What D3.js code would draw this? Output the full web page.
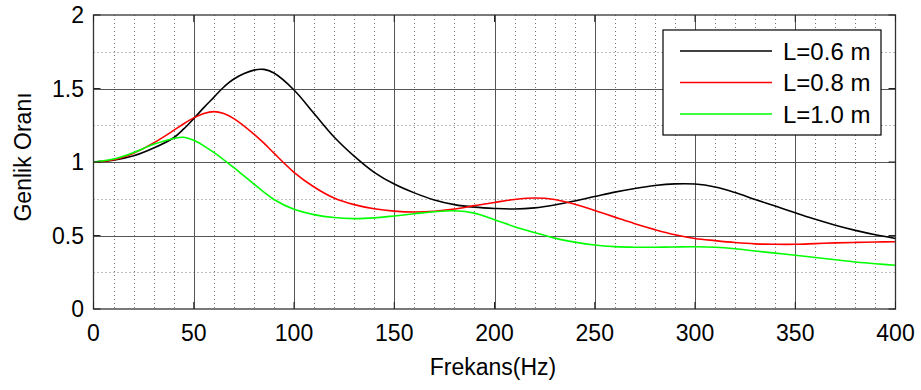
<!DOCTYPE html>
<html><head><meta charset="utf-8">
<script src="https://cdn.jsdelivr.net/npm/d3@7"></script>
<style>body{margin:0;background:#fff}svg{display:block}text{font-family:"Liberation Sans",Arial,sans-serif;fill:#000}</style>
</head><body><svg id="c" width="921" height="390"></svg>
<script>
const freqs = [0,10,20,30,40,45,50,55,60,65,70,80,85,90,100,110,120,130,140,150,160,170,180,190,200,210,220,230,240,250,260,270,280,290,300,310,320,330,340,350,360,370,380,390,400];
const seriesL06 = [1.00,1.012,1.042,1.095,1.165,1.225,1.295,1.37,1.44,1.51,1.565,1.625,1.63,1.605,1.49,1.33,1.17,1.04,0.93,0.85,0.79,0.742,0.71,0.693,0.684,0.68,0.688,0.708,0.735,0.765,0.795,0.82,0.84,0.851,0.85,0.83,0.792,0.745,0.70,0.655,0.61,0.57,0.535,0.505,0.48];
const seriesL08 = [1.00,1.015,1.06,1.13,1.215,1.26,1.30,1.33,1.343,1.33,1.295,1.19,1.128,1.06,0.93,0.83,0.755,0.71,0.682,0.666,0.66,0.665,0.68,0.703,0.725,0.745,0.755,0.745,0.713,0.67,0.625,0.58,0.54,0.505,0.48,0.465,0.452,0.443,0.44,0.44,0.445,0.45,0.453,0.456,0.457];
const seriesL10 = [1.00,1.02,1.065,1.12,1.16,1.168,1.148,1.11,1.065,1.015,0.962,0.85,0.795,0.745,0.678,0.642,0.622,0.615,0.62,0.633,0.648,0.662,0.668,0.652,0.607,0.56,0.52,0.482,0.455,0.435,0.424,0.42,0.42,0.422,0.423,0.42,0.41,0.395,0.38,0.366,0.35,0.335,0.32,0.308,0.298];
const seriesNames = ["L=0.6 m","L=0.8 m","L=1.0 m"];
const seriesColors = ["#000000","#ff0000","#00ff00"];
const xTicks = [0,50,100,150,200,250,300,350,400];
const yTicks = [0,0.5,1,1.5,2];
const yTickLabels = ["0","0.5","1","1.5","2"];
const xMinor = d3.range(0,401,10);
const yMinor = [0.25,0.75,1.25,1.75];

const svg = d3.select("#c");
const L=93.5, R=895.5, T=15, B=309;
const x = d3.scaleLinear().domain([0,400]).range([L,R]);
const y = d3.scaleLinear().domain([0,2]).range([B,T]);

const g = svg.append("g");
g.selectAll(".vm").data(xMinor.filter(d=>d%50!==0)).enter().append("line")
 .attr("x1",d=>Math.round(x(d))+0.5).attr("x2",d=>Math.round(x(d))+0.5).attr("y1",T).attr("y2",B)
 .attr("stroke","#777").attr("stroke-width",1).attr("stroke-dasharray","1,3");
g.selectAll(".hm").data(yMinor).enter().append("line")
 .attr("y1",d=>Math.round(y(d))+0.5).attr("y2",d=>Math.round(y(d))+0.5).attr("x1",L).attr("x2",R)
 .attr("stroke","#777").attr("stroke-width",1).attr("stroke-dasharray","1,3");
g.selectAll(".vM").data(xTicks.slice(1,-1)).enter().append("line")
 .attr("x1",d=>Math.round(x(d))+0.5).attr("x2",d=>Math.round(x(d))+0.5).attr("y1",T).attr("y2",B)
 .attr("stroke","#555").attr("stroke-width",1);
g.selectAll(".hM").data(yTicks.slice(1,-1)).enter().append("line")
 .attr("y1",d=>Math.round(y(d))+0.5).attr("y2",d=>Math.round(y(d))+0.5).attr("x1",L).attr("x2",R)
 .attr("stroke","#555").attr("stroke-width",1);

const allSeries=[seriesL06,seriesL08,seriesL10];
const line = d3.line().x((d,i)=>x(freqs[i])).y(d=>y(d)).curve(d3.curveCatmullRom.alpha(0.5));
allSeries.forEach((s,k)=>{
  svg.append("path").datum(s).attr("d",line).attr("fill","none")
   .attr("stroke",seriesColors[k]).attr("stroke-width",1.6);
});

svg.append("rect").attr("x",L).attr("y",T).attr("width",R-L).attr("height",B-T)
 .attr("fill","none").attr("stroke","#333").attr("stroke-width",1.3);
const tk=7;
xTicks.forEach(d=>{
  svg.append("line").attr("x1",x(d)).attr("x2",x(d)).attr("y1",B).attr("y2",B-tk).attr("stroke","#222");
  svg.append("line").attr("x1",x(d)).attr("x2",x(d)).attr("y1",T).attr("y2",T+tk).attr("stroke","#222");
});
yTicks.forEach(d=>{
  svg.append("line").attr("y1",y(d)).attr("y2",y(d)).attr("x1",L).attr("x2",L+tk).attr("stroke","#222");
  svg.append("line").attr("y1",y(d)).attr("y2",y(d)).attr("x1",R).attr("x2",R-tk).attr("stroke","#222");
});
svg.selectAll(".xl").data(xTicks).enter().append("text")
 .attr("x",d=>x(d)).attr("y",341).attr("text-anchor","middle").attr("font-size",23).text(d=>d);
svg.selectAll(".yl").data(yTicks).enter().append("text")
 .attr("x",84).attr("y",d=>y(d)+8).attr("text-anchor","end").attr("font-size",23).text((d,i)=>yTickLabels[i]);
svg.append("text").attr("x",493).attr("y",375).attr("text-anchor","middle").attr("font-size",23).text("Frekans(Hz)");
svg.append("text").attr("transform","translate(31,157) rotate(-90)").attr("text-anchor","middle").attr("font-size",23).text("Genlik Oranı");

const lg = svg.append("g");
lg.append("rect").attr("x",663).attr("y",30).attr("width",218).attr("height",105)
 .attr("fill","#fff").attr("stroke","#000").attr("stroke-width",1.2);
seriesNames.forEach((n,i)=>{
  const yy = 51 + i*31.5;
  lg.append("line").attr("x1",680).attr("x2",772).attr("y1",yy).attr("y2",yy).attr("stroke",seriesColors[i]).attr("stroke-width",1.6);
  lg.append("text").attr("x",783).attr("y",yy+8.5).attr("font-size",24).text(n);
});
</script></body></html>
